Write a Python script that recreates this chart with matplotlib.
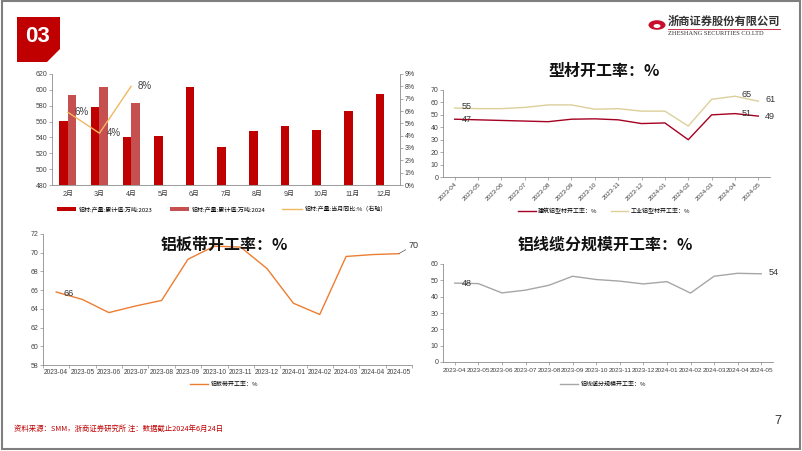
import matplotlib
matplotlib.use('Agg')
import matplotlib.pyplot as plt
from matplotlib.patches import Polygon, Rectangle, Circle
from matplotlib.lines import Line2D
import numpy as np

plt.rcParams['font.family'] = ['Liberation Sans', 'Noto Sans CJK SC', 'DejaVu Sans']
plt.rcParams['axes.unicode_minus'] = False

W, H = 802, 451

# ---- data: aluminium output (chart 1)
months = ['2月', '3月', '4月', '5月', '6月', '7月', '8月', '9月', '10月', '11月', '12月']
output_2023 = [561, 579, 541, 542, 603, 528, 548, 555, 550, 573, 595]
output_2024 = [594, 603, 584]
yoy_2024 = [5.9, 4.2, 8.0]
yoy_labels = ['6%', '4%', '8%']

# ---- data: utilisation rates (charts 2-4)
dates = ['2023-04', '2023-05', '2023-06', '2023-07', '2023-08', '2023-09', '2023-10',
         '2023-11', '2023-12', '2024-01', '2024-02', '2024-03', '2024-04', '2024-05']
profile_building = [46.5, 46.0, 45.5, 45.0, 44.5, 46.5, 46.8, 46.0, 43.0, 43.5, 30.0, 50.0, 51.0, 49.0]
profile_industrial = [55.5, 55.0, 55.0, 56.0, 58.0, 58.0, 54.5, 55.0, 53.0, 53.0, 41.0, 62.5, 65.0, 61.0]
sheet_rate = [65.8, 65.0, 63.6, 64.3, 64.9, 69.3, 70.7, 70.6, 68.3, 64.6, 63.4, 69.6, 69.8, 69.9]
cable_rate = [48.3, 48.0, 42.3, 44.0, 47.0, 52.5, 50.5, 49.5, 47.8, 49.2, 42.2, 52.5, 54.3, 54.0]


def rect(x0, y0, x1, y1):
    return [x0 / W, 1 - y1 / H, (x1 - x0) / W, (y1 - y0) / H]


def fx(x):
    return x / W


def fy(y):
    return 1 - y / H


tick_col = '#404040'
spine_col = '#8c8c8c'
cjk = ['Noto Sans CJK SC']


def style_axes(ax):
    for s in ['top', 'right']:
        ax.spines[s].set_visible(False)
    for s in ['left', 'bottom']:
        ax.spines[s].set_color(spine_col)
        ax.spines[s].set_linewidth(0.6)
    ax.tick_params(axis='both', labelsize=5, colors=spine_col, labelcolor=tick_col,
                   length=2, width=0.5, pad=1.5)


fig = plt.figure(figsize=(W / 100, H / 100), dpi=100)

# page frame
fig.patches.append(Rectangle((fx(2), fy(449)), fx(798), 448 / H, transform=fig.transFigure,
                             fill=False, edgecolor='#7f7f7f', linewidth=1.5))

# section badge
badge = [(17, 17), (60, 17), (60, 49), (47, 62), (17, 62)]
fig.patches.append(Polygon([(fx(a), fy(b)) for a, b in badge], closed=True,
                           transform=fig.transFigure, facecolor='#C00000', edgecolor='none'))
fig.text(fx(37), fy(36), '03', color='white', fontsize=16, fontweight='bold',
         ha='center', va='center')

# logo
fig.patches.append(Circle((fx(657), fy(25)), 8.5 / W, transform=fig.transFigure,
                          facecolor='#C8102E', edgecolor='none'))
fig.patches.append(Circle((fx(657), fy(26)), 3.5 / W, transform=fig.transFigure,
                          facecolor='white', edgecolor='none'))
fig.text(fx(668), fy(21), '浙商证券股份有限公司', fontsize=8.1, fontweight='bold',
         color='#333333', ha='left', va='center', family=cjk)
fig.lines.append(Line2D([fx(668), fx(780)], [fy(29), fy(29)], transform=fig.transFigure,
                        color='#C8102E', linewidth=0.6))
fig.text(fx(668), fy(33.5), 'ZHESHANG SECURITIES CO.LTD', fontsize=4.6, color='#333333',
         ha='left', va='center', family=['Liberation Serif'])

# ---------------- chart 1: bars + yoy line
ax1 = fig.add_axes(rect(52, 74, 400, 185))
x = np.arange(len(months))
bw = 0.27
b23 = ax1.bar(x - bw / 2, output_2023, width=bw, color='#C00000', label='铝材:产量:累计值:万吨:2023')
b24 = ax1.bar(x[:len(output_2024)] + bw / 2, output_2024, width=bw, color='#C65050',
              label='铝材:产量:累计值:万吨:2024')
ax1.set_ylim(480, 620)
ax1.set_yticks(np.arange(480, 621, 20))
ax1.set_xlim(-0.5, len(months) - 0.5)
ax1.set_xticks(x)
ax1.set_xticklabels(months)
style_axes(ax1)
ax1.tick_params(axis='x', length=0, pad=4)
ax1r = ax1.twinx()
ln, = ax1r.plot(x[:len(yoy_2024)], yoy_2024, color='#F0B860', linewidth=1.0,
                label='铝材:产量:当月同比:%（右轴）')
ax1r.set_ylim(0, 9)
ax1r.set_yticks(np.arange(0, 10, 1))
ax1r.set_yticklabels([f'{v}%' for v in range(10)])
for s in ['top', 'left', 'bottom']:
    ax1r.spines[s].set_visible(False)
ax1r.spines['right'].set_color(spine_col)
ax1r.spines['right'].set_linewidth(0.6)
ax1r.tick_params(axis='y', labelsize=5, colors=spine_col, labelcolor=tick_col,
                 length=2, width=0.5, pad=1.5)
for xi, v, t in zip(x, yoy_2024, yoy_labels):
    ax1r.annotate(t, (xi, v), xytext=(5, 0), textcoords='offset points', fontsize=7,
                  color='#404040', ha='left', va='center')
fig.legend(handles=[b23, b24, ln], loc='center', bbox_to_anchor=(fx(222), fy(209)),
           ncol=3, frameon=False, handlelength=3.2, handleheight=0.5,
           columnspacing=2.8, handletextpad=0.5, prop={'family': cjk, 'size': 4.3})

# ---------------- chart 2: profile utilisation
ax2 = fig.add_axes(rect(443, 90, 770, 177))
xd = np.arange(len(dates))
l21, = ax2.plot(xd, profile_building, color='#A50021', linewidth=1.0, label='建筑铝型材开工率：%')
l22, = ax2.plot(xd, profile_industrial, color='#DCCF9A', linewidth=1.0, label='工业铝型材开工率：%')
ax2.set_ylim(0, 70)
ax2.set_yticks(np.arange(0, 71, 10))
ax2.set_xlim(-0.5, len(dates) - 0.5)
ax2.set_xticks(xd)
ax2.set_xticklabels(dates, rotation=45, ha='right', rotation_mode='anchor')
style_axes(ax2)
ax2.tick_params(axis='x', labelsize=4.6, pad=1)
fig.text(fx(604), fy(71), '型材开工率：%', fontsize=11.5, color='#111111', ha='center',
         va='center', family=cjk, fontweight='bold')
for idx in [0, 12, 13]:
    ax2.annotate(f'{profile_industrial[idx]:.0f}' if idx else '55', (idx, profile_industrial[idx]),
                 xytext=(5, 1), textcoords='offset points', fontsize=6.5, color='#333333',
                 ha='left', va='center')
    ax2.annotate(f'{profile_building[idx]:.0f}' if idx else '47', (idx, profile_building[idx]),
                 xytext=(5, 0), textcoords='offset points', fontsize=6.5, color='#333333',
                 ha='left', va='center')
fig.legend(handles=[l21, l22], loc='center', bbox_to_anchor=(fx(604), fy(211)), ncol=2,
           frameon=False, handlelength=3, columnspacing=2.2, handletextpad=0.4,
           prop={'family': cjk, 'size': 4.3})

# ---------------- chart 3: sheet & strip
ax3 = fig.add_axes(rect(43, 234, 412, 365))
l3, = ax3.plot(xd, sheet_rate, color='#ED7D31', linewidth=1.0, label='铝板带开工率：%')
ax3.set_ylim(58, 72)
ax3.set_yticks(np.arange(58, 73, 2))
ax3.set_xlim(-0.5, len(dates) - 0.5)
ax3.set_xticks(xd)
ax3.set_xticklabels(dates)
ax3.set_xticks(np.arange(-0.5, len(dates)), minor=True)
style_axes(ax3)
ax3.tick_params(axis='x', which='major', length=0, labelsize=4.8, pad=3)
ax3.tick_params(axis='x', which='minor', length=2.5, width=0.5, colors=spine_col)
fig.text(fx(224), fy(245), '铝板带开工率：%', fontsize=11.5, color='#111111', ha='center',
         va='center', family=cjk, fontweight='bold')
ax3.annotate('66', (0, sheet_rate[0]), xytext=(5, -1), textcoords='offset points', fontsize=6.5,
             color='#333333', ha='left', va='center')
ax3.annotate('70', (13, sheet_rate[-1]), xytext=(7, 6), textcoords='offset points', fontsize=6.5,
             color='#333333', ha='left', va='center',
             arrowprops=dict(arrowstyle='-', color='#555555', lw=0.5, shrinkA=0, shrinkB=0))
fig.legend(handles=[l3], loc='center', bbox_to_anchor=(fx(224), fy(384)), frameon=False,
           handlelength=3, handletextpad=0.4, prop={'family': cjk, 'size': 4.3})

# ---------------- chart 4: cable
ax4 = fig.add_axes(rect(443, 264, 773, 362))
l4, = ax4.plot(xd, cable_rate, color='#A6A6A6', linewidth=1.0, label='铝线缆分规模开工率：%')
ax4.set_ylim(0, 60)
ax4.set_yticks(np.arange(0, 61, 10))
ax4.set_xlim(-0.5, len(dates) - 0.5)
ax4.set_xticks(xd)
ax4.set_xticklabels(dates)
style_axes(ax4)
ax4.tick_params(axis='x', labelsize=4.6, pad=2)
fig.text(fx(605), fy(245), '铝线缆分规模开工率：%', fontsize=11.5, color='#111111', ha='center',
         va='center', family=cjk, fontweight='bold')
ax4.annotate('48', (0, cable_rate[0]), xytext=(5, 0), textcoords='offset points', fontsize=6.5,
             color='#333333', ha='left', va='center')
ax4.annotate('54', (13, cable_rate[-1]), xytext=(5, 1), textcoords='offset points', fontsize=6.5,
             color='#333333', ha='left', va='center')
fig.legend(handles=[l4], loc='center', bbox_to_anchor=(fx(603), fy(384)), frameon=False,
           handlelength=3, handletextpad=0.4, prop={'family': cjk, 'size': 4.3})

# footer
fig.text(fx(14), fy(429), '资料来源：SMM，浙商证券研究所 注：数据截止2024年6月24日', fontsize=5.3,
         color='#C00000', ha='left', va='center', family=cjk)
fig.text(fx(778), fy(421), '7', fontsize=9, color='#333333', ha='center', va='center')

fig.savefig('out.png', dpi=100)
